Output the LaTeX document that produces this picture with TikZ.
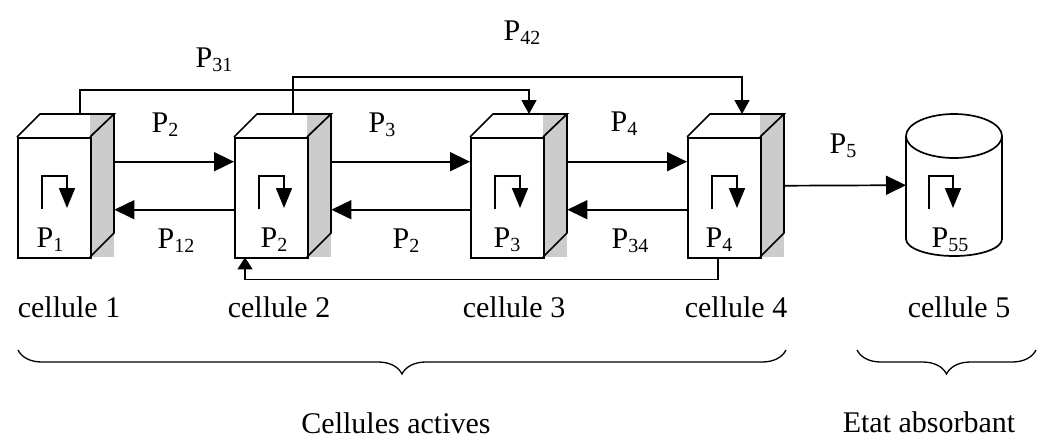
\documentclass[tikz,border=0pt]{standalone}
\usepackage{fontspec}
\setmainfont{Liberation Serif}
\usetikzlibrary{arrows.meta,decorations.pathreplacing}
\newcommand\Pl[1]{P\raisebox{-4pt}{\fontsize{20}{20}\selectfont #1}}
\tikzset{
  lw/.style={line width=1.7pt},
  bigarr/.style={lw,-{Triangle[length=20pt,width=19pt]}},
  loopar/.style={lw,-{Triangle[length=20pt,width=16pt]}},
  smallarr/.style={lw,-{Triangle[length=14pt,width=15pt]}},
  lab/.style={anchor=base,inner sep=0pt,font=\fontsize{30}{36}\selectfont},
  face/.style={lw,draw,minimum width=73pt,minimum height=120pt,inner sep=0pt,anchor=north west},
  hull/.style={minimum width=97pt,minimum height=143pt,inner sep=0pt,anchor=north west},
  brc/.style={line width=1.3pt,decorate,decoration={brace,mirror,amplitude=24pt}}
}
\newcommand\cellcube[2]{%
  \fill[gray!40] (#2+73,114) rectangle (#2+97,257);
  \node[hull] (#1s) at (#2,114) {};
  \node[face] (#1) at (#2,137) {};
  \draw[lw,line join=miter] (#2,137) -- (#2+23,114) -- (#2+97,114) -- (#2+73,137);
  \draw[lw] (#2+97,114) -- (#2+97,233) -- (#2+73,257);
  \draw[loopar] (#2+25,209) -- (#2+25,176) -- (#2+50,176) -- (#2+50,208);
}
\begin{document}
\begin{tikzpicture}[x=1pt,y=-1pt]
\useasboundingbox (0,0) rectangle (1043,442);
\cellcube{c1}{17}
\cellcube{c2}{234}
\cellcube{c3}{470}
\cellcube{c4}{687}
% cylinder
\node[minimum width=96pt,minimum height=142pt,inner sep=0pt,anchor=north west] (c5) at (906,114) {};
\draw[lw] (954,136) ellipse [x radius=48pt, y radius=22pt];
\draw[lw] (906,136) -- (906,239) arc[start angle=180,end angle=360,x radius=48pt,y radius=17pt] -- (1002,136);
\draw[loopar] (929,209) -- (929,176) -- (953,176) -- (953,208);
% labels inside
\node[lab] (l1) at (50,247) {\Pl{1}};
\node[lab] (l2) at (274,247) {\Pl{2}};
\node[lab] (l3) at (507,247) {\Pl{3}};
\node[lab] (l4) at (719,247) {\Pl{4}};
\node[lab] (l5) at (950,247) {\Pl{55}};
% horizontal arrows
\draw[bigarr] ([yshift=24pt]c1s.east) -- ([yshift=24pt]c2s.west);
\draw[bigarr] ([yshift=-24pt]c2s.west) -- ([yshift=-24pt]c1s.east);
\draw[bigarr] ([yshift=24pt]c2s.east) -- ([yshift=24pt]c3s.west);
\draw[bigarr] ([yshift=-24pt]c3s.west) -- ([yshift=-24pt]c2s.east);
\draw[bigarr] ([yshift=24pt]c3s.east) -- ([yshift=24pt]c4s.west);
\draw[bigarr] ([yshift=-24pt]c4s.west) -- ([yshift=-24pt]c3s.east);
\draw[bigarr] (c4s.east) -- (c5.west);
% jumps
\draw[smallarr] ([xshift=63pt]c1s.north west) -- ++(0,-24) -| ([xshift=59pt]c3s.north west);
\draw[smallarr] ([xshift=59pt]c2s.north west) -- ++(0,-37) -| ([xshift=55pt]c4s.north west);
\draw[lw,-{Triangle[length=12pt,width=15pt]}] ([xshift=31pt]c4s.south west) -- ++(0,22) -| ([xshift=11pt]c2s.south west);
% arrow labels
\node[lab] (t2) at (165,132) {\Pl{2}};
\node[lab] (t12) at (176,248) {\Pl{12}};
\node[lab] (t3) at (382,132) {\Pl{3}};
\node[lab] (t2b) at (406,248) {\Pl{2}};
\node[lab] (t4) at (624,131) {\Pl{4}};
\node[lab] (t34) at (630,248) {\Pl{34}};
\node[lab] (t5) at (843,153) {\Pl{5}};
\node[lab] (t31) at (214,67) {\Pl{31}};
\node[lab] (t42) at (522,40) {\Pl{42}};
% cell names
\node[lab] (n1) at (69,317) {cellule 1};
\node[lab] (n2) at (279,317) {cellule 2};
\node[lab] (n3) at (514,317) {cellule 3};
\node[lab] (n4) at (736,317) {cellule 4};
\node[lab] (n5) at (959,317) {cellule 5};
% braces
\coordinate (b1a) at (18,350);
\coordinate (b1b) at (786,350);
\coordinate (b2a) at (857,350);
\coordinate (b2b) at (1036,350);
\draw[brc] (b1a) -- (b1b);
\draw[brc] (b2a) -- (b2b);
\node[lab] (g1) at (396,433) {Cellules actives};
\node[lab] (g2) at (929,432) {Etat absorbant};
\end{tikzpicture}
\end{document}
